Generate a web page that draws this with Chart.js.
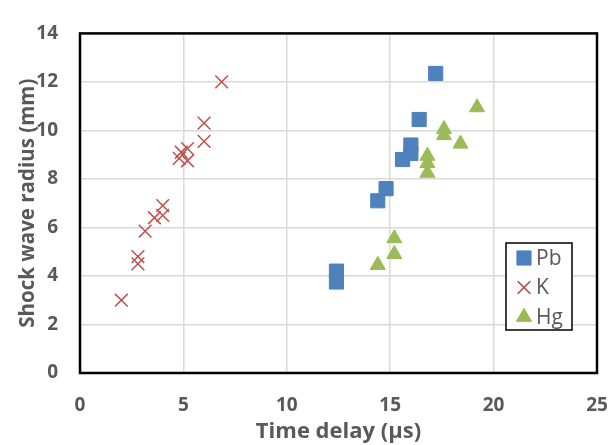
<!DOCTYPE html>
<html>
<head>
<meta charset="utf-8">
<script src="https://cdn.jsdelivr.net/npm/chart.js@4.4.0/dist/chart.umd.min.js"></script>
<style>
  html, body { margin: 0; padding: 0; background: #fff; }
  #wrap { width: 611px; height: 445px; }
</style>
</head>
<body>
<div id="wrap"><canvas id="shock-chart" width="611" height="445"></canvas></div>
<script>
// Series data (x = time delay in us, y = radius in mm)
let pbTime = [17.2, 16.4, 16.0, 16.0, 15.6, 14.8, 14.4, 12.4, 12.4]
let pbRadius = [12.35, 10.45, 9.4, 9.05, 8.8, 7.6, 7.1, 4.2, 3.75]

let kTime = [6.85, 6.0, 6.0, 4.8, 4.9, 5.2, 5.2, 4.0, 4.0, 3.6, 3.15, 2.8, 2.8, 2.0]
let kRadius = [12.0, 10.3, 9.55, 8.85, 9.1, 9.25, 8.75, 6.9, 6.5, 6.4, 5.85, 4.8, 4.5, 3.0]

let hgTime = [19.2, 17.6, 17.6, 18.4, 16.8, 16.8, 16.8, 15.2, 15.2, 14.4]
let hgRadius = [10.95, 10.05, 9.8, 9.45, 8.95, 8.65, 8.25, 5.55, 4.9, 4.45]

let seriesNames = ['Pb', 'K', 'Hg']
let xTicks = [0, 5, 10, 15, 20, 25]
let yTicks = [0, 2, 4, 6, 8, 10, 12, 14]

// pair up x and y arrays into point objects
function toPoints(xs, ys) {
    return xs.map(function (x, i) { return {x: x, y: ys[i]} })
}

let tickFont = {family: 'Open Sans', size: 19, weight: 'bold'}
let textGray = '#595959'

// black frame around the plot area
let frame = {
    id: 'frame',
    afterDatasetsDraw: function (chart) {
        let a = chart.chartArea
        let c = chart.ctx
        c.save()
        c.strokeStyle = '#000'
        c.lineWidth = 2.5
        c.strokeRect(a.left, a.top, a.right - a.left, a.bottom - a.top)
        c.restore()
    }
}

// legend box sitting inside the plot, lower right
let boxLegend = {
    id: 'boxLegend',
    afterDraw: function (chart) {
        let c = chart.ctx
        let left = 506, top = 243, w = 66, h = 87
        c.save()
        c.fillStyle = '#fff'
        c.fillRect(left, top, w, h)
        c.strokeStyle = '#000'
        c.lineWidth = 1.5
        c.strokeRect(left, top, w, h)
        c.font = '21px "Open Sans"'
        c.textBaseline = 'middle'
        chart.data.datasets.forEach(function (ds, i) {
            let cy = top + 15 + i * 29.5
            c.fillStyle = ds.backgroundColor
            c.strokeStyle = ds.borderColor
            c.lineWidth = ds.borderWidth
            Chart.helpers.drawPoint(c, {
                pointStyle: ds.pointStyle,
                radius: ds.pointRadius,
                borderWidth: ds.borderWidth
            }, left + 18, cy)
            c.fillStyle = textGray
            c.fillText(ds.label, left + 30, cy + 1)
        })
        c.restore()
    }
}

let chart = new Chart(document.getElementById('shock-chart'), {
    type: 'scatter',
    data: {
        datasets: [
            {label: seriesNames[0], data: toPoints(pbTime, pbRadius), pointStyle: 'rect',
                pointRadius: 10, backgroundColor: '#4F81BD', borderColor: '#4F81BD', borderWidth: 1},
            {label: seriesNames[1], data: toPoints(kTime, kRadius), pointStyle: 'crossRot',
                pointRadius: 9, backgroundColor: '#C0504D', borderColor: '#C0504D', borderWidth: 1.5},
            {label: seriesNames[2], data: toPoints(hgTime, hgRadius), pointStyle: 'triangle',
                pointRadius: 8.7, backgroundColor: '#9BBB59', borderColor: '#9BBB59', borderWidth: 1}
        ]
    },
    options: {
        responsive: false,
        animation: false,
        layout: {padding: {top: 24, right: 0, left: 0, bottom: 0}},
        plugins: {legend: {display: false}, tooltip: {enabled: false}},
        scales: {
            x: {
                min: 0, max: 25,
                afterBuildTicks: function (s) { s.ticks = xTicks.map(function (v) { return {value: v} }) },
                afterFit: function (s) { s.height = 72; s.paddingRight = 14 },
                grid: {color: '#D9D9D9', lineWidth: 1.5, drawTicks: false},
                border: {display: false},
                ticks: {font: tickFont, color: textGray, padding: 21, maxRotation: 0},
                title: {display: true, text: 'Time delay (μs)', color: textGray,
                    font: {family: 'Open Sans', size: 22, weight: 'bold'}, padding: {top: 0, bottom: 0}}
            },
            y: {
                min: 0, max: 14,
                afterBuildTicks: function (s) { s.ticks = yTicks.map(function (v) { return {value: v} }) },
                afterFit: function (s) { s.width = 80 },
                grid: {color: '#D9D9D9', lineWidth: 1.5, drawTicks: false},
                border: {display: false},
                ticks: {font: tickFont, color: textGray, padding: 22},
                title: {display: true, text: 'Shock wave radius (mm)', color: textGray,
                    font: {family: 'Open Sans', size: 20.5, weight: 'bold'}, padding: {top: 16, bottom: 0}}
            }
        }
    },
    plugins: [frame, boxLegend]
})
</script>
</body>
</html>
